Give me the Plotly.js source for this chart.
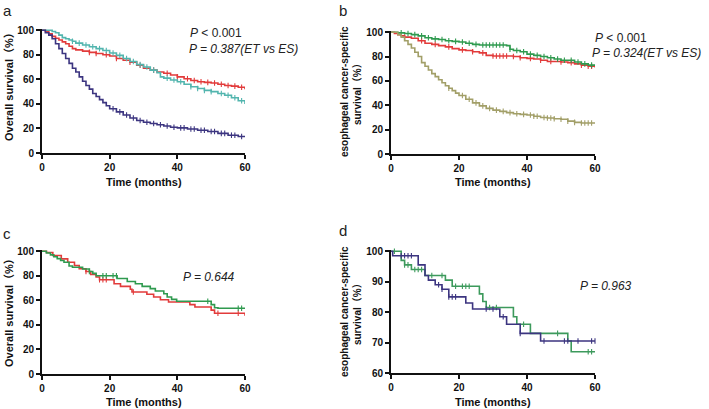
<!DOCTYPE html>
<html>
<head>
<meta charset="utf-8">
<script src="https://cdn.plot.ly/plotly-3.0.1.min.js"></script>
<style>
  html, body { margin: 0; padding: 0; background: #fff; }
  #chart { width: 709px; height: 409px; }
</style>
</head>
<body>
<div id="chart"></div>
<script>
// panel a - overall survival, three groups
var aNavyT = [0, 1, 2, 3, 4, 5, 6, 7, 8, 9, 10, 11, 12, 13, 14, 15, 16, 17, 18, 19, 20, 22, 24, 26, 28, 30, 32, 34, 36, 38, 40, 43, 46, 49, 52, 55, 58, 60];
var aNavyS = [100, 98, 96, 93, 89, 85, 81, 77, 73, 69, 66, 62, 58.5, 55, 52, 48.5, 46, 43.5, 41, 38.5, 36, 33.5, 31, 28.5, 26.5, 25, 24, 23, 22, 21, 20.5, 19.5, 18.5, 17.5, 16, 14.5, 13.5, 13];
var aNavyC = [21, 23, 25, 27, 29, 31, 33, 35, 37, 39, 41, 42, 44, 45, 47, 48, 50, 51, 53, 54, 56, 57, 59];

var aRedT = [0, 1, 2, 3, 4, 5, 6, 7, 8, 9, 10, 12, 14, 16, 18, 20, 22, 24, 26, 28, 30, 32, 34, 36, 38, 40, 42, 44, 46, 48, 50, 52, 54, 56, 58, 60];
var aRedS = [100, 99, 97, 95, 93.5, 92, 90.5, 89, 87, 85, 84, 83, 82, 81, 80, 79, 77, 75.5, 74, 71.5, 69, 67.5, 66, 65, 63.5, 62, 60.5, 59, 58, 57.5, 57, 56, 55, 54.5, 53.5, 52];
var aRedC = [14, 16, 19, 22, 26, 29, 33, 37, 40, 43, 45, 47, 49, 51, 53, 55, 57, 59];

var aTealT = [0, 2, 3, 4, 5, 6, 7, 8, 9, 10, 12, 14, 16, 18, 20, 22, 24, 26, 28, 30, 32, 34, 35, 36, 38, 40, 42, 44, 46, 48, 50, 52, 54, 56, 58, 60];
var aTealS = [100, 100, 99, 98, 96, 94, 93, 92, 91, 89.5, 88, 86.5, 85, 83.5, 81.5, 79.5, 77, 74.5, 72, 70, 67.5, 65.5, 62, 61, 59.5, 58, 56, 54, 52.5, 51, 50, 48.5, 47, 45, 42.5, 40];
var aTealC = [9, 11, 13, 15, 17, 19, 21, 23, 25, 27, 29, 31, 33, 37, 39, 41, 44, 46, 48, 50, 53, 55, 57, 59];

// panel b - esophageal cancer-specific survival
var bGreenT = [0, 2, 4, 6, 8, 10, 12, 14, 16, 18, 20, 22, 24, 26, 34, 35, 36, 38, 40, 42, 44, 46, 48, 50, 52, 54, 56, 58, 60];
var bGreenS = [100, 99.5, 99, 98, 97, 95.5, 94.5, 94, 93, 92.5, 92, 91, 90, 89.5, 89, 86, 85, 84, 82, 81, 80, 79, 78, 77, 77, 75.5, 74, 73, 73];
var bGreenC = [3, 5, 7, 9, 11, 13, 15, 17, 19, 21, 23, 25, 27, 28, 29, 30, 31, 32, 33, 35, 37, 39, 41, 43, 45, 47, 49, 51, 53, 55, 57, 59];

var bRedT = [0, 1, 2, 3, 4, 6, 8, 10, 12, 14, 16, 18, 20, 22, 24, 26, 28, 30, 35, 36, 38, 40, 42, 44, 46, 48, 50, 52, 54, 56, 58, 60];
var bRedS = [100, 99, 98, 97, 96, 95, 93, 91, 90, 89, 88, 86.5, 85.5, 85, 84, 83, 81, 80.5, 80.5, 80, 79, 78.5, 78, 77, 76, 76, 75.5, 75, 74, 73, 72, 71];
var bRedC = [4, 9, 13, 17, 21, 24, 27, 30, 31, 32, 33, 34, 36, 38, 41, 44, 47, 50, 53, 56, 58, 59];

var bOliveT = [0, 2, 3, 4, 5, 6, 7, 8, 9, 10, 11, 12, 13, 14, 15, 16, 17, 18, 19, 20, 22, 24, 26, 28, 30, 32, 34, 36, 38, 40, 42, 44, 46, 48, 50, 52, 54, 56, 58, 60];
var bOliveS = [100, 98, 96, 93, 90, 87, 83.5, 80, 75, 72, 69, 66, 63.5, 61, 58.5, 56, 54, 52, 50, 48, 45, 42, 39.5, 37.5, 36, 35, 34, 33, 32.5, 32, 31, 30, 29.5, 29, 28.5, 27, 26, 25.5, 25.5, 25];
var bOliveC = [17, 21, 23, 25, 27, 29, 31, 33, 35, 37, 39, 41, 42, 43, 45, 46, 47, 48, 50, 52, 54, 56, 57, 58, 59];

// panel c - overall survival, two groups
var cGreenT = [0, 1.3, 2.5, 3.5, 4.5, 5.5, 6.5, 8, 9, 12, 14, 15, 16, 22.2, 25.2, 27.6, 29.6, 32, 33.5, 36, 37, 38.3, 39.8, 50, 51, 52, 60];
var cGreenS = [100, 98.5, 97, 95.5, 94, 92.5, 91, 88, 87, 85.5, 83.5, 82, 80, 77.8, 75.4, 73.5, 71.4, 69.5, 67.6, 65.4, 62.7, 60.8, 59.2, 56.5, 54, 53.5, 53.5];
var cGreenC = [14, 18, 19, 21, 22, 49, 58, 59];

var cRedT = [0, 1.3, 3.2, 5.7, 7.6, 9.6, 11, 13, 14.4, 16, 17, 21.3, 23.2, 26.1, 26.6, 31, 33, 35, 37.4, 43.7, 45.2, 50, 51, 60];
var cRedS = [100, 99, 96.5, 93.8, 91, 88.4, 85.7, 83.5, 81, 79, 76.8, 73.5, 71.4, 69, 66.8, 64.9, 62.7, 60.5, 58.6, 56.5, 54.6, 52, 49.5, 47.5];
var cRedC = [13, 17, 18, 19, 27, 52, 58];

// panel d - esophageal cancer-specific survival, two groups
var dNavyT = [0, 0.5, 8, 10, 11, 13, 15, 17, 22, 24, 32, 34, 38, 44, 60];
var dNavyS = [100, 98.5, 95.5, 92, 90.5, 89, 87.5, 85, 83, 81, 78.5, 76, 73, 70.5, 70.5];
var dNavyC = [3, 4, 5, 6, 14, 15, 17, 18, 19, 28, 30, 33, 38, 45, 51, 52, 55, 59, 60];

var dGreenT = [0, 3, 4, 6, 10, 16, 18, 26, 27, 28, 36, 37, 41, 52, 53, 60];
var dGreenS = [100, 97, 95.5, 94, 92, 90.5, 88.5, 86, 83.5, 81.5, 78.5, 76, 73, 70.5, 67, 67];
var dGreenC = [1, 4, 5, 7, 8, 9, 12, 15, 19, 21, 22, 23, 29, 31, 39, 49, 58, 59];

var W = 709, H = 409;
function px(x) { return x / W; }
function py(y) { return 1 - y / H; }

function stepAt(t, ts, ss) {
  var v = ss[0];
  for (var i = 0; i < ts.length; i++) { if (ts[i] <= t) v = ss[i]; }
  return v;
}

var data = [];
function km(ts, ss, cs, color, ax) {
  data.push({
    x: ts, y: ss, type: 'scatter', mode: 'lines',
    line: {shape: 'hv', color: color, width: 1.6},
    xaxis: 'x' + ax, yaxis: 'y' + ax, hoverinfo: 'skip'
  });
  // censor ticks
  data.push({
    x: cs, y: cs.map(function (t) { return stepAt(t, ts, ss); }),
    type: 'scatter', mode: 'markers',
    marker: {symbol: 'line-ns', size: 4, color: color, line: {width: 1.1, color: color}},
    xaxis: 'x' + ax, yaxis: 'y' + ax, hoverinfo: 'skip', cliponaxis: false
  });
}

var red = '#e23b3b', teal = '#52b5ae', navy = '#3c3580', green = '#2f9a4f', olive = '#a29f68';

km(aRedT, aRedS, aRedC, red, '');
km(aTealT, aTealS, aTealC, teal, '');
km(aNavyT, aNavyS, aNavyC, navy, '');

km(bRedT, bRedS, bRedC, red, '2');
km(bGreenT, bGreenS, bGreenC, green, '2');
km(bOliveT, bOliveS, bOliveC, olive, '2');

km(cRedT, cRedS, cRedC, red, '3');
km(cGreenT, cGreenS, cGreenC, green, '3');

km(dGreenT, dGreenS, dGreenC, '#3d9a5c', '4');
km(dNavyT, dNavyS, dNavyC, navy, '4');

var tickFont = {family: 'Liberation Sans, Arial, sans-serif', size: 10, color: '#111', weight: 'bold'};

function xAx(left, right, anchor) {
  return {
    domain: [px(left), px(right)], anchor: anchor, range: [0, 60],
    tickvals: [0, 20, 40, 60], showline: true, linewidth: 2, linecolor: '#111',
    ticks: 'outside', ticklen: 4, tickwidth: 2, tickcolor: '#111',
    showgrid: false, zeroline: false, tickfont: tickFont, fixedrange: true
  };
}
function yAx(top, bottom, anchor, lo, hi, step) {
  return {
    domain: [py(bottom), py(top)], anchor: anchor, range: [lo, hi],
    dtick: step, tick0: lo, showline: true, linewidth: 2, linecolor: '#111',
    ticks: 'outside', ticklen: 4, tickwidth: 2, tickcolor: '#111',
    showgrid: false, zeroline: false, tickfont: tickFont, fixedrange: true
  };
}

var txt = {family: 'Liberation Sans, Arial, sans-serif', size: 12, color: '#222'};
var lab = {family: 'Liberation Sans, Arial, sans-serif', size: 15, color: '#222'};
var ttl = {family: 'Liberation Sans, Arial, "Noto Sans CJK SC", sans-serif', size: 11, color: '#111', weight: 'bold'};
var ttl2 = {family: 'Liberation Sans, Arial, "Noto Sans CJK SC", sans-serif', size: 10, color: '#111', weight: 'bold'};

function ann(text, x, y, font, xanchor, angle) {
  return {
    text: text, xref: 'paper', yref: 'paper', x: px(x), y: py(y),
    xanchor: xanchor || 'center', yanchor: 'middle', showarrow: false,
    font: font, textangle: angle || 0
  };
}

var layout = {
  width: W, height: H,
  margin: {l: 0, r: 0, t: 0, b: 0},
  paper_bgcolor: '#fff', plot_bgcolor: '#fff',
  showlegend: false,
  xaxis: xAx(42, 245, 'y'),
  yaxis: yAx(29, 153, 'x', 0, 101, 20),
  xaxis2: xAx(391, 595, 'y2'),
  yaxis2: yAx(31, 154, 'x2', 0, 101, 20),
  xaxis3: xAx(42, 245, 'y3'),
  yaxis3: yAx(250, 374, 'x3', 0, 101, 20),
  xaxis4: xAx(391, 595, 'y4'),
  yaxis4: yAx(250, 373, 'x4', 60, 100.4, 10),
  annotations: [
    ann('a', 7, 10, lab),
    ann('b', 343, 11, lab),
    ann('c', 7, 233, lab),
    ann('d', 343, 230, lab),
    ann('<i>P</i> < 0.001', 188, 33, txt, 'left'),
    ann('<i>P = 0.387(ET vs ES)</i>', 187, 49, txt, 'left'),
    ann('<i>P</i> < 0.001', 593, 38, txt, 'left'),
    ann('<i>P = 0.324(ET vs ES)</i>', 590, 53, txt, 'left'),
    ann('<i>P = 0.644</i>', 181, 277, txt, 'left'),
    ann('<i>P = 0.963</i>', 578, 286, txt, 'left'),
    ann('Time (months)', 143.5, 182, ttl),
    ann('Time (months)', 493, 182, ttl),
    ann('Time (months)', 143.5, 402, ttl),
    ann('Time (months)', 493, 402, ttl),
    ann('Overall survival（%）', 9, 84, ttl, 'center', -90),
    ann('Overall survival（%）', 9, 310, ttl, 'center', -90),
    ann('esophageal cancer-specific<br>survival（%）', 351, 92, ttl2, 'center', -90),
    ann('esophageal cancer-specific<br>survival（%）', 351, 312, ttl2, 'center', -90)
  ]
};

Plotly.newPlot('chart', data, layout, {displayModeBar: false, staticPlot: true});
</script>
</body>
</html>
